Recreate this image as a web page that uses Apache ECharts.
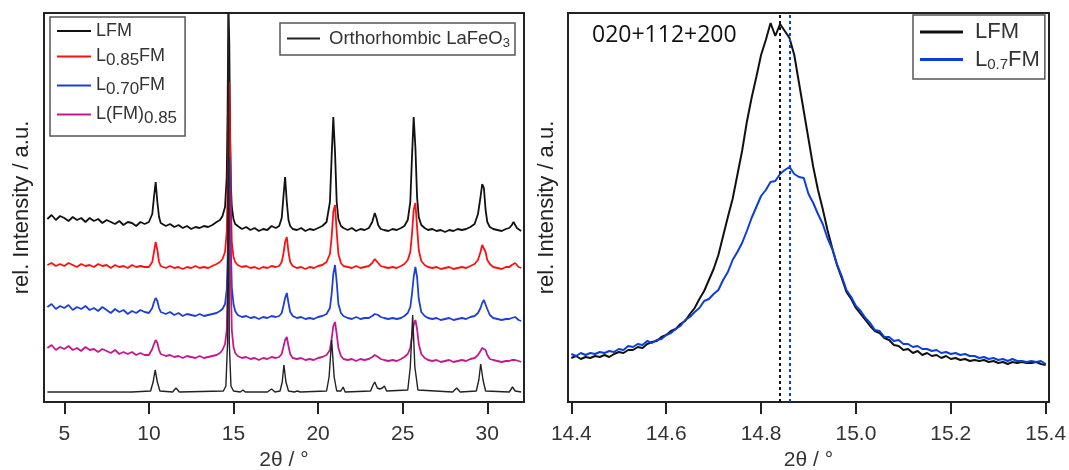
<!DOCTYPE html>
<html><head><meta charset="utf-8">
<script src="https://cdn.jsdelivr.net/npm/echarts@6/dist/echarts.min.js"></script>
<style>html,body{margin:0;padding:0;background:#fff}#c{width:1069px;height:470px}</style>
</head><body><div id="c"></div>
<script>
// ---------- Left panel: XRD patterns (2θ in degrees, intensity in arbitrary offset units) ----------
const xLeft = [
 4.0,4.25,4.5,4.75,5.0,5.25,5.5,5.75,6.0,6.25,6.5,6.75,7.0,7.25,7.5,7.75,8.0,8.25,8.5,8.75,9.0,9.25,9.5,9.75,
 10.0,10.1,10.2,10.3,10.4,10.5,10.6,10.7,10.8,
 11.0,11.25,11.5,11.75,12.0,12.25,12.5,12.75,13.0,13.25,13.5,13.75,14.0,
 14.2,14.35,14.5,14.6,14.65,14.7,14.75,14.8,14.85,14.9,15.0,15.1,15.25,
 15.5,15.75,16.0,16.25,16.5,16.75,17.0,17.25,17.5,
 17.7,17.85,17.95,18.05,18.15,18.25,18.35,18.5,
 18.75,19.0,19.25,19.5,19.75,20.0,20.25,
 20.5,20.7,20.8,20.9,21.0,21.1,21.2,21.35,21.5,
 21.75,22.0,22.25,22.5,22.75,
 23.0,23.2,23.35,23.45,23.55,23.7,23.9,
 24.15,24.4,24.65,24.9,25.1,
 25.3,25.45,25.55,25.65,25.75,25.85,25.95,26.1,26.3,
 26.5,26.75,27.0,27.25,27.5,27.75,28.0,28.25,28.5,28.75,29.0,
 29.25,29.45,29.6,29.7,29.8,29.9,30.0,30.15,30.35,
 30.6,30.85,31.1,31.3,
 31.45,31.55,31.65,31.75,31.85,
 32.0
];
const yLFM = [
 183,187,182,186,184,181,185,182,184,180,184,181,183,179,182,180,178,181,177,180,179,176,180,178,
 180,182,188,205,220,200,185,179,177,
 176,178,175,177,174,176,173,175,174,176,175,177,180,
 182,186,195,225,290,395,360,270,215,195,183,178,176,
 173,175,172,174,171,173,172,176,174,
 176,184,205,225,200,182,176,173,
 172,174,171,173,172,174,176,
 180,200,245,285,250,200,183,176,174,
 172,174,171,173,172,
 174,180,189,184,177,173,172,
 171,173,172,174,176,
 182,200,245,285,255,205,185,177,174,
 172,173,171,172,170,172,171,173,172,173,175,
 178,188,205,218,214,192,180,175,173,
 172,171,173,174,
 177,180,179,174,172,
 171
];
const yL085FM = [
 137,139,136,138,136,139,137,135,138,136,137,135,138,136,137,134,137,135,136,134,137,135,136,135,
 135,137,140,150,160,152,140,136,135,
 134,136,134,135,133,135,134,136,134,135,134,136,138,
 140,143,150,170,210,285,320,260,195,160,145,140,137,
 135,136,134,135,133,135,134,136,135,
 136,140,148,160,165,150,140,136,
 134,135,133,135,134,136,137,
 140,148,165,190,197,170,148,139,136,
 135,134,136,134,135,
 136,139,143,144,139,136,135,
 134,135,134,136,138,
 142,150,168,192,199,175,152,141,137,
 135,134,135,133,134,135,133,134,135,134,136,
 138,142,150,157,158,150,142,138,135,
 134,133,135,135,
 137,138,139,137,135,
 134
];
const yL070FM = [
 95,98,93,96,94,97,92,95,93,96,92,94,91,95,92,89,93,90,92,88,91,89,92,90,
 89,91,94,100,104,101,94,90,88,
 88,90,87,89,86,88,87,86,88,86,87,88,89,
 91,93,98,112,140,190,245,215,150,115,98,91,87,
 85,86,84,85,83,85,84,86,85,
 86,89,96,104,109,99,90,86,
 84,85,83,84,83,85,86,
 88,94,108,128,137,120,98,89,86,
 84,83,85,83,84,
 84,86,88,89,87,85,84,
 83,84,83,84,86,
 89,95,108,125,135,125,103,90,86,
 84,83,84,82,83,84,82,83,84,83,85,
 86,89,94,99,102,100,93,87,84,
 83,82,83,83,
 84,85,85,84,82,
 81
];
const yLFM085 = [
 54,57,52,55,53,56,52,54,51,55,52,53,50,53,51,49,52,48,50,48,50,47,49,47,
 47,49,53,58,62,59,52,48,46,
 46,47,45,46,44,46,45,44,46,44,45,46,47,
 49,52,58,72,110,170,215,180,115,72,55,49,46,
 44,45,43,44,42,44,43,45,44,
 45,48,55,62,65,56,48,44,
 43,44,42,43,42,44,45,
 47,52,63,76,80,68,54,46,43,
 42,43,41,43,42,
 43,45,47,47,45,43,42,
 41,42,41,43,45,
 48,54,66,77,82,73,58,48,44,
 42,41,42,40,41,42,40,41,42,41,43,
 44,47,51,54,55,52,47,43,42,
 41,40,41,41,
 42,43,42,42,41,
 40
];
// Reference pattern: orthorhombic LaFeO3
const xRef = [4.0,9.0,10.1,10.25,10.37,10.5,10.65,11.4,11.6,11.8,
 14.4,14.55,14.65,14.7,14.75,14.85,15.0,
 15.4,15.56,15.7,
 17.0,17.25,17.45,
 17.75,17.88,17.98,18.1,18.25,
 18.6,18.77,18.95,
 20.5,20.65,20.8,20.95,21.1,
 21.35,21.48,21.6,
 23.1,23.25,23.35,23.5,23.65,23.8,23.92,24.05,
 25.3,25.45,25.59,25.72,25.9,
 27.95,28.19,28.4,
 29.35,29.5,29.61,29.75,29.9,
 31.3,31.49,31.65,32.0];
const yRef = [10,10,11,20,32,20,11,10,14,10,
 11,16,60,400,60,16,11,
 10,12,10,
 10,13,10,
 11,20,37,20,11,
 10,11,10,
 11,25,62,25,11,
 11,15,10,
 11,17,20,14,13,14,16,11,
 12,35,87,35,12,
 10,14,10,
 11,22,38,22,11,
 10,15,11,10];
const leftTicks = [5,10,15,20,25,30];

// ---------- Right panel: zoom on 020+112+200 reflection ----------
const xRight = [
 14.40,14.41,14.42,14.43,14.44,14.45,14.46,14.47,14.48,14.49,
 14.50,14.51,14.52,14.53,14.54,14.55,14.56,14.57,14.58,14.59,
 14.60,14.61,14.62,14.63,14.64,14.65,14.66,14.67,14.68,14.69,
 14.70,14.71,14.72,14.73,14.74,14.75,14.76,14.77,14.78,14.79,
 14.80,14.81,14.82,14.83,14.84,14.85,14.86,14.87,14.88,14.89,
 14.90,14.91,14.92,14.93,14.94,14.95,14.96,14.97,14.98,14.99,
 15.00,15.01,15.02,15.03,15.04,15.05,15.06,15.07,15.08,15.09,
 15.10,15.11,15.12,15.13,15.14,15.15,15.16,15.17,15.18,15.19,
 15.20,15.21,15.22,15.23,15.24,15.25,15.26,15.27,15.28,15.29,
 15.30,15.31,15.32,15.33,15.34,15.35,15.36,15.37,15.38,15.39,
 15.40
];
const yRightLFM = [
 44,46,43,45,44,46,45,47,45,48,
 50,49,52,52,55,54,58,60,61,65,
 67,71,73,78,81,88,94,103,111,122,
 133,147,166,185,203,227,251,280,304,325,
 347,362,379,366,378,371,364,347,319,291,
 263,235,212,193,172,154,137,124,110,103,
 94,88,82,76,71,69,64,62,57,56,
 52,53,49,51,47,49,46,47,44,46,
 43,44,42,43,41,42,41,42,40,41,
 39,40,38,40,39,40,39,39,40,38,
 37
];
const yRightL07FM = [
 48,46,49,47,49,48,50,49,51,50,
 53,52,56,55,58,57,61,59,62,63,
 67,69,73,76,82,85,90,94,101,103,
 108,112,122,130,142,150,159,171,184,195,
 206,212,220,221,228,232,235,228,225,224,
 208,199,188,178,164,153,138,126,112,105,
 96,91,84,79,72,71,65,65,61,62,
 58,58,55,56,53,53,51,52,49,50,
 48,49,47,48,46,46,44,45,43,44,
 42,43,41,43,41,41,40,41,40,41,
 38
];
const peakPositions = [14.836, 14.86]; // LFM, L0.7FM
const rightTicks = [14.4,14.6,14.8,15.0,15.2,15.4];

// ---------- Chart ----------
const FF = '"Liberation Sans", Arial, sans-serif';
const zip = (xs, ys) => xs.map((x, i) => [x, ys[i]]);
const legendText = {
  'LFM': '{n|LFM}',
  'L0.85FM': '{n|L}{s|0.85}{n|FM}',
  'L0.70FM': '{n|L}{s|0.70}{n|FM}',
  'L(FM)0.85': '{n|L(FM)}{s|0.85}',
  'Orthorhombic LaFeO3': '{n|Orthorhombic LaFeO}{s|3}',
  'L0.7FM': '{n|L}{s|0.7}{n|FM}'
};
const fmt = name => legendText[name] || name;

function lineSeries(name, data, color, width, xi, extra) {
  return Object.assign({
    name, type: 'line', data, xAxisIndex: xi, yAxisIndex: xi,
    color, symbol: 'none', showSymbol: false, clip: true, silent: true,
    lineStyle: { color, width }, animation: false
  }, extra || {});
}

function xAxisCfg(gi, min, max, ticks, fmtFn) {
  return {
    gridIndex: gi, type: 'value', min, max,
    axisLine: { show: true, lineStyle: { color: '#222', width: 2 } },
    axisTick: { show: true, inside: false, length: 12, customValues: ticks, lineStyle: { color: '#222', width: 2 } },
    axisLabel: { customValues: ticks, fontSize: 21, color: '#333', margin: 22, fontFamily: FF, formatter: fmtFn },
    splitLine: { show: false },
    name: '2θ / °', nameLocation: 'middle', nameGap: 47,
    nameTextStyle: { fontSize: 21, color: '#333', fontFamily: FF }
  };
}
function yAxisCfg(gi, gap) {
  return {
    gridIndex: gi, type: 'value', min: 0, max: 389,
    axisLine: { show: false }, axisTick: { show: false }, axisLabel: { show: false },
    splitLine: { show: false },
    name: 'rel. Intensity / a.u.', nameLocation: 'middle', nameGap: gap,
    nameTextStyle: { fontSize: 22, color: '#222', fontFamily: FF }
  };
}

const chart = echarts.init(document.getElementById('c'), null, { renderer: 'canvas' });
chart.setOption({
  backgroundColor: '#fff',
  animation: false,
  grid: [
    { left: 44, right: 545, top: 13, bottom: 68, show: true, borderColor: '#222', borderWidth: 2, outerBoundsMode: 'none' },
    { left: 568, right: 20, top: 13, bottom: 68, show: true, borderColor: '#222', borderWidth: 2, outerBoundsMode: 'none' }
  ],
  xAxis: [
    xAxisCfg(0, 3.8, 32.17, leftTicks, v => String(v)),
    xAxisCfg(1, 14.393, 15.407, rightTicks, v => v.toFixed(1))
  ],
  yAxis: [yAxisCfg(0, 11), yAxisCfg(1, 10)],
  legend: [
    {
      data: ['LFM', 'L0.85FM', 'L0.70FM', 'L(FM)0.85'],
      left: 50, top: 17, orient: 'vertical', icon: 'rect', itemWidth: 34, itemHeight: 2, itemGap: 4,
      padding: [5, 8, 9, 7], borderColor: '#555', borderWidth: 1.5, backgroundColor: '#fff',
      selectedMode: false, formatter: fmt,
      textStyle: { color: '#333', fontFamily: FF, rich: {
        n: { fontSize: 18, lineHeight: 20, color: '#333', fontFamily: FF },
        s: { fontSize: 17, lineHeight: 12, padding: [8, 0, 0, 0], color: '#333', fontFamily: FF }
      } }
    },
    {
      data: ['Orthorhombic LaFeO3'],
      left: 280, top: 23, orient: 'vertical', icon: 'rect', itemWidth: 33, itemHeight: 2,
      padding: [4, 5, 5, 7], borderColor: '#555', borderWidth: 1.5, backgroundColor: '#fff',
      selectedMode: false, formatter: fmt,
      textStyle: { color: '#333', fontFamily: FF, padding: [0, 0, 0, 4], rich: {
        n: { fontSize: 18.5, lineHeight: 22, color: '#333', fontFamily: FF },
        s: { fontSize: 13, lineHeight: 12, padding: [10, 0, 0, 0], color: '#333', fontFamily: FF }
      } }
    },
    {
      data: ['LFM', 'L0.7FM'],
      left: 913, top: 15, orient: 'vertical', icon: 'rect', itemWidth: 43, itemHeight: 3, itemGap: 4,
      padding: [6, 5, 7, 7], borderColor: '#555', borderWidth: 1.5, backgroundColor: '#fff',
      selectedMode: false, formatter: fmt,
      textStyle: { color: '#333', fontFamily: FF, padding: [0, 0, 0, 7], rich: {
        n: { fontSize: 22, lineHeight: 24, color: '#333', fontFamily: FF },
        s: { fontSize: 15, lineHeight: 14, padding: [10, 0, 0, 0], color: '#333', fontFamily: FF }
      } }
    }
  ],
  graphic: [
    { type: 'text', left: 592, top: 24, silent: true,
      style: { text: '020+112+200', fontSize: 23, fontFamily: '"Open Sans", sans-serif', fill: '#111' } }
  ],
  series: [
    lineSeries('LFM', zip(xLeft, yLFM), '#111111', 1.8, 0),
    lineSeries('L0.85FM', zip(xLeft, yL085FM), '#ff1010', 1.8, 0),
    lineSeries('L0.70FM', zip(xLeft, yL070FM), '#1c3fd4', 1.8, 0),
    lineSeries('L(FM)0.85', zip(xLeft, yLFM085), '#c4188f', 1.8, 0),
    lineSeries('Orthorhombic LaFeO3', zip(xRef, yRef), '#222222', 1.4, 0),
    lineSeries('LFM', zip(xRight, yRightLFM), '#111111', 2, 1, {
      markLine: { silent: true, symbol: ['none', 'none'], label: { show: false }, animation: false,
        lineStyle: { color: '#111', width: 2, type: [3, 3] },
        data: [{ xAxis: peakPositions[0] }] }
    }),
    lineSeries('L0.7FM', zip(xRight, yRightL07FM), '#0b3fd9', 2, 1, {
      markLine: { silent: true, symbol: ['none', 'none'], label: { show: false }, animation: false,
        lineStyle: { color: '#0b3fd9', width: 2, type: [3, 3] },
        data: [{ xAxis: peakPositions[1] }] }
    })
  ]
});
</script>
</body></html>
